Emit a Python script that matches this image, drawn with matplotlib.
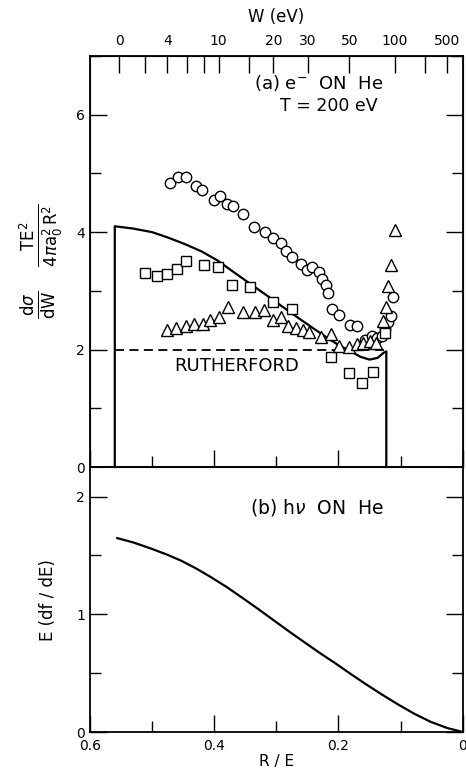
"""e- on He: energy-loss cross section vs R/E, with photoabsorption for comparison."""
import numpy as np
import matplotlib.pyplot as plt
from matplotlib.ticker import MultipleLocator

plt.rcParams['font.family'] = ['DejaVu Sans']
plt.rcParams['mathtext.fontset'] = 'dejavusans'

# panel (a): theory curve (solid) and Rutherford (dashed)
theory_x = [0.56, 0.56, 0.53, 0.50, 0.475, 0.448, 0.42, 0.395, 0.37, 0.342,
            0.315, 0.29, 0.262, 0.236, 0.215, 0.20, 0.18, 0.165, 0.15, 0.137,
            0.127, 0.123, 0.123]
theory_y = [0.0, 4.10, 4.06, 4.0, 3.91, 3.80, 3.67, 3.52, 3.33, 3.12,
            2.92, 2.73, 2.52, 2.33, 2.18, 2.08, 1.97, 1.88, 1.83, 1.86,
            1.95, 1.97, 0.0]
ruth_x = [0.56, 0.125]
ruth_y = [1.99, 1.99]

circ_x = [0.471, 0.458, 0.445, 0.429, 0.419, 0.400, 0.391, 0.379, 0.369, 0.354,
          0.336, 0.318, 0.305, 0.292, 0.284, 0.274, 0.260, 0.250, 0.242, 0.231,
          0.227, 0.220, 0.217, 0.210, 0.199, 0.181, 0.170, 0.157, 0.146, 0.138,
          0.130, 0.125, 0.120, 0.115, 0.112]
circ_y = [4.84, 4.93, 4.93, 4.78, 4.71, 4.55, 4.61, 4.48, 4.44, 4.31,
          4.09, 4.01, 3.90, 3.81, 3.68, 3.58, 3.45, 3.35, 3.41, 3.32,
          3.21, 3.10, 2.97, 2.70, 2.59, 2.42, 2.40, 2.16, 2.24, 2.20,
          2.24, 2.35, 2.47, 2.58, 2.90]

sq_x = [0.511, 0.492, 0.476, 0.460, 0.445, 0.416, 0.394, 0.371, 0.343, 0.305,
        0.275, 0.212, 0.183, 0.162, 0.145, 0.125]
sq_y = [3.31, 3.25, 3.29, 3.38, 3.51, 3.44, 3.40, 3.10, 3.07, 2.81,
        2.69, 1.88, 1.60, 1.44, 1.62, 2.28]

tri_x = [0.476, 0.461, 0.446, 0.432, 0.418, 0.407, 0.393, 0.377, 0.353, 0.335,
         0.320, 0.305, 0.292, 0.281, 0.268, 0.257, 0.247, 0.228, 0.212, 0.199,
         0.183, 0.170, 0.160, 0.150, 0.140, 0.129, 0.124, 0.120, 0.116, 0.109]
tri_y = [2.33, 2.36, 2.40, 2.43, 2.43, 2.50, 2.55, 2.73, 2.64, 2.64,
         2.67, 2.50, 2.56, 2.40, 2.36, 2.33, 2.30, 2.22, 2.27, 2.07,
         2.05, 2.10, 2.12, 2.15, 2.12, 2.49, 2.73, 3.08, 3.44, 4.03]

# panel (b): photoabsorption E(df/dE)
photo_x = [0.556, 0.53, 0.501, 0.475, 0.453, 0.43, 0.406, 0.38, 0.358, 0.33,
           0.305, 0.28, 0.252, 0.228, 0.204, 0.18, 0.157, 0.13, 0.104, 0.078,
           0.051, 0.025, 0.0]
photo_y = [1.647, 1.61, 1.557, 1.505, 1.455, 1.392, 1.318, 1.232, 1.152, 1.048,
           0.952, 0.856, 0.752, 0.664, 0.58, 0.492, 0.41, 0.318, 0.234, 0.155,
           0.085, 0.034, 0.0]

# top axis: W (eV), R/E = 13.6 / (W + 24.6)
w_ticks = np.array([0, 2, 4, 6, 8, 10, 15, 20, 30, 50, 100, 200, 500])
w_labels = ['0', '', '4', '', '', '10', '', '20', '30', '50', '100', '', '500']

fig = plt.figure(figsize=(4.66, 7.76), dpi=100)
ax = fig.add_axes([0.193, 0.398, 0.8, 0.53])
bx = fig.add_axes([0.193, 0.0567, 0.8, 0.3413])

lw = 1.6
ax.plot(theory_x, theory_y, 'k-', lw=lw)
ax.plot(ruth_x, ruth_y, 'k--', lw=1.3, dashes=(5, 3))
mk = dict(ls='none', mfc='white', mec='k', mew=1.0, ms=7.5)
ax.plot(circ_x, circ_y, marker='o', **mk)
ax.plot(sq_x, sq_y, marker='s', **dict(mk, ms=7))
ax.plot(tri_x, tri_y, marker='^', **dict(mk, ms=8.5))

ax.text(0.232, 6.53, r'(a) e$^{-}$  ON  He', fontsize=13, ha='center', va='center')
ax.text(0.215, 6.15, 'T = 200 eV', fontsize=12.5, ha='center', va='center')
ax.text(0.364, 1.73, 'RUTHERFORD', fontsize=13, ha='center', va='center')

bx.plot(photo_x, photo_y, 'k-', lw=lw)
bx.text(0.234, 1.91, r'(b) h$\nu$  ON  He', fontsize=13.5, ha='center', va='center')

for a in (ax, bx):
    a.set_xlim(0.6, 0.0)
    a.xaxis.set_major_locator(MultipleLocator(0.2))
    a.xaxis.set_minor_locator(MultipleLocator(0.1))
    a.tick_params(which='both', direction='in', right=True, labelsize=10,
                  width=1.0, length=12)
    a.tick_params(which='minor', length=8)
    for s in a.spines.values():
        s.set_linewidth(1.3)

ax.set_ylim(0, 7)
ax.yaxis.set_major_locator(MultipleLocator(2))
ax.yaxis.set_minor_locator(MultipleLocator(1))
ax.tick_params(axis='x', labelbottom=False)
ax.set_ylabel(r'$\frac{\mathrm{d}\sigma}{\mathrm{dW}}\quad'
              r'\frac{\mathrm{TE}^2}{4\pi\mathrm{a}_0^2\,\mathrm{R}^2}$',
              fontsize=17, labelpad=8)

bx.set_ylim(0, 2.25)
bx.yaxis.set_major_locator(MultipleLocator(1))
bx.yaxis.set_minor_locator(MultipleLocator(0.5))
bx.set_xticks([0.6, 0.4, 0.2, 0.0])
bx.set_xticklabels(['0.6', '0.4', '0.2', '0'])
bx.tick_params(axis='x', pad=5)
bx.set_xlabel('R / E', fontsize=11, labelpad=1)
bx.set_ylabel('E (df / dE)', fontsize=12, labelpad=14)

axt = ax.twiny()
axt.set_xlim(ax.get_xlim())
axt.set_xticks(13.6 / (w_ticks + 24.6))
axt.set_xticklabels(w_labels)
axt.tick_params(direction='in', length=12, width=1.0, labelsize=10, pad=6)
axt.set_xlabel('W (eV)', fontsize=12, labelpad=8)

fig.savefig('out.png', dpi=100)
